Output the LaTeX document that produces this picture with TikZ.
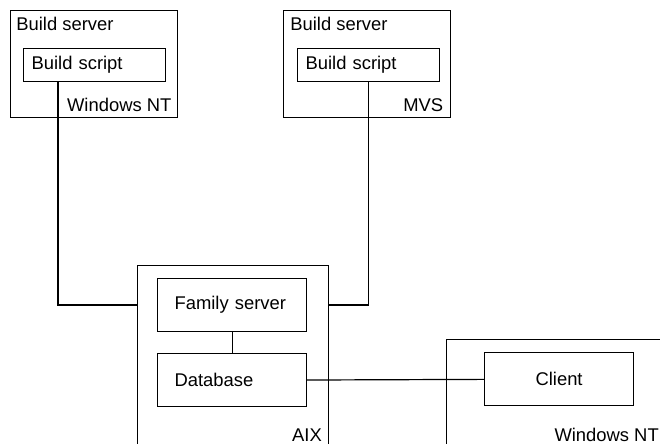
\documentclass[tikz,border=0pt]{standalone}
\usepackage{fontspec}
\setmainfont{Liberation Sans}
\usetikzlibrary{positioning,calc}

\begin{document}
\begin{tikzpicture}[
    x=0.5pt, y=-0.5pt,
    font=\fontsize{9.2}{11}\selectfont,
    host/.style={rectangle, draw=black, line width=0.6pt, inner sep=0pt},
    sbox/.style={rectangle, draw=black, line width=0.6pt, align=left, text width=63pt,
                 inner xsep=4pt, minimum height=16.5pt},
    cbox/.style={rectangle, draw=black, line width=0.6pt, align=left, text width=57.5pt,
                 inner xsep=8.5pt, minimum height=26.5pt},
    tag/.style={inner sep=0pt},
    link/.style={line width=0.6pt}
]
\useasboundingbox (0,0) rectangle (660,444);
\clip (0,0) rectangle (660,444);
\node[host, minimum width=83.5pt, minimum height=53.5pt, anchor=north west] (bs1) at (10,10) {};
\node[host, minimum width=83.5pt, minimum height=53.5pt, anchor=north west] (bs2) at (283,10) {};
\node[host, minimum width=95.5pt, minimum height=91pt, anchor=north west] (aix) at (137,265) {};
\node[host, minimum width=112.5pt, minimum height=54pt, anchor=north west] (nt) at (446,339) {};
\node[tag, below right=3.5pt and 3pt of bs1.north west] (bs1l) {Build server};
\node[tag, below right=3.5pt and 3.5pt of bs2.north west] (bs2l) {Build server};
\node[sbox, below right=19pt and 6.5pt of bs1.north west] (sc1) {Build script};
\node[sbox, below right=19pt and 7pt of bs2.north west] (sc2) {Build script};
\node[tag, anchor=base east] (bs1o) at ([shift={(-3.2pt,3.5pt)}]bs1.south east) {Windows NT};
\node[tag, anchor=base east] (bs2o) at ([shift={(-3.8pt,3.5pt)}]bs2.south east) {MVS};
\node[cbox, below right=6.5pt and 10pt of aix.north west] (fam) {Family server};
\node[cbox, below=10.5pt of fam] (db) {Database};
\node[tag, anchor=base east] (aixo) at ([shift={(-3.5pt,3.5pt)}]aix.south east) {AIX};
\node[cbox, align=center, below right=6.5pt and 19pt of nt.north west] (cl) {Client};
\node[tag, anchor=base east] (nto) at ([shift={(-6.5pt,3.5pt)}]nt.south east) {Windows NT};
\draw[link] ([xshift=17.5pt]sc1.south west) |- (aix.west |- fam.center);
\draw[link] (sc2.south) |- (aix.east |- fam.center);
\draw[link] (fam) -- (db); \draw[link] (db) -- (cl);
\end{tikzpicture}
\end{document}
